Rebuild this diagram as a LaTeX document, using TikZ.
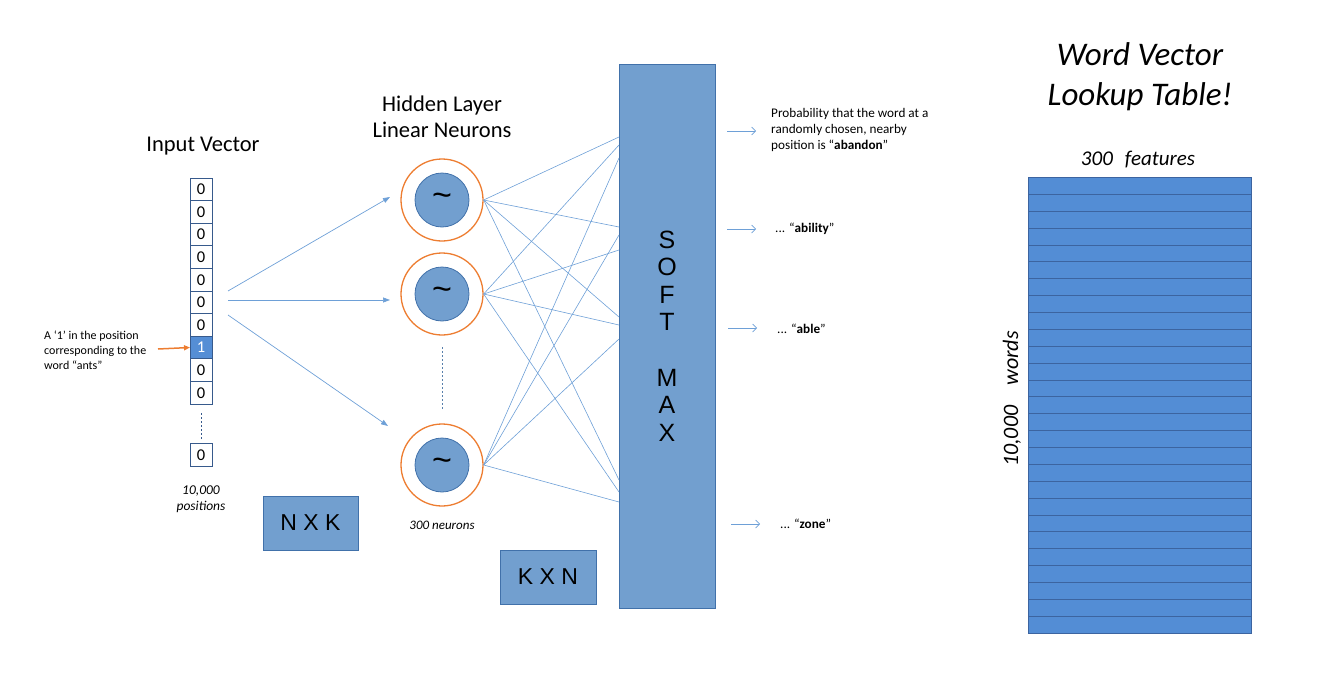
\documentclass[tikz,border=0pt]{standalone}
\usepackage{fontspec}
\setmainfont{Carlito}
\newfontfamily\arialfont{Liberation Sans}
\usetikzlibrary{arrows.meta}
\definecolor{boxblue}{RGB}{114,159,207}
\definecolor{boxedge}{RGB}{65,113,170}
\definecolor{celledge}{RGB}{55,90,140}
\definecolor{linkblue}{RGB}{110,160,215}
\definecolor{neurorange}{RGB}{237,125,49}
\definecolor{onecell}{RGB}{85,142,213}
\definecolor{tableblue}{RGB}{83,141,213}
\definecolor{tableedge}{RGB}{60,100,160}
\newcommand{\fs}[1]{\fontsize{#1}{#1}\selectfont}
\tikzset{
  cell/.style={draw=celledge,line width=1pt,minimum width=22pt,minimum height=22.6pt,inner sep=0pt,outer sep=0pt,font=\fs{16.5}},
  outer/.style={circle,draw=neurorange,line width=1.3pt,minimum size=82pt,inner sep=0pt},
  inner/.style={circle,draw=boxedge,fill=boxblue,line width=0.8pt,minimum size=54pt,inner sep=0pt,font=\arialfont\fs{34}},
  link/.style={draw=linkblue,line width=0.6pt},
  inarrow/.style={draw=linkblue,line width=0.7pt,-{Triangle[length=7pt,width=5pt]}},
  outarrow/.style={draw=linkblue,line width=0.7pt,-{Straight Barb[length=4pt,width=8pt]}},
  orangearrow/.style={draw=neurorange,line width=1.5pt,-{Triangle[length=6pt,width=5pt]}},
  bluebox/.style={draw=boxedge,fill=boxblue,line width=0.8pt,inner sep=0pt},
  letter/.style={font=\arialfont\fs{25},inner sep=0pt},
  lbl/.style={inner sep=0pt,align=left,anchor=west}
}
\begin{document}
\begin{tikzpicture}[x=1pt,y=-1pt]
\useasboundingbox (0,0) rectangle (1323,680);

% Input vector
\node[font=\fs{22.5}] (ivt) at (203,146) {Input Vector};
\foreach \i in {1,...,10}{
  \pgfmathsetmacro{\yy}{178+11.3+22.6*(\i-1)}
  \ifnum\i=8
    \node[cell,fill=onecell,text=white] (c\i) at (201,\yy) {1};
  \else
    \node[cell] (c\i) at (201,\yy) {0};
  \fi
}
\node[cell] (clast) at (201,455) {0};
\draw[celledge,dashed,line width=0.5pt,dash pattern=on 2pt off 2pt] (c10.south) ++(0,9) coordinate (dA) -- (201,440) coordinate (dB);
\node[font=\itshape\fs{13.5},align=center,inner sep=0pt] (ipos) at (201,499) {10,000\\[3pt]positions};

% label with orange arrow
\node[lbl,font=\fs{12}] (antlbl) at (44,350) {A `1' in the position\\[3pt]corresponding to the\\[3pt]word ``ants''};
\coordinate (oa1) at (158,349);
\draw[orangearrow] (oa1) -- (c8.west);

% arrows to neurons
\coordinate (ia1) at (228,291);
\coordinate (ia2) at (228,300);
\coordinate (ia3) at (228,315);
\coordinate (ib1) at (390,197);
\coordinate (ib2) at (390,300);
\coordinate (ib3) at (388,426);
\draw[inarrow] (ia1) -- (ib1);
\draw[inarrow] (ia2) -- (ib2);
\draw[inarrow] (ia3) -- (ib3);

% Hidden layer
\node[font=\fs{22.5},align=center,inner sep=0pt] (hlt) at (442,117) {Hidden Layer\\[4pt]Linear Neurons};
\node[outer] (n1o) at (442,200) {};
\node[inner] (n1) at (442,200) {\raisebox{-3pt}{\textasciitilde}};
\node[outer] (n2o) at (442,294) {};
\node[inner] (n2) at (442,294) {\raisebox{-3pt}{\textasciitilde}};
\node[outer] (n3o) at (442,465) {};
\node[inner] (n3) at (442,465) {\raisebox{-3pt}{\textasciitilde}};
\draw[linkblue!80!black,dashed,line width=0.5pt,dash pattern=on 2pt off 2pt] (442,347) coordinate (hdA) -- (442,410) coordinate (hdB);
\node[font=\itshape\fs{13},inner sep=0pt] (hneur) at (442,525) {300 neurons};

% Softmax
\node[bluebox,minimum width=96pt,minimum height=544pt] (sm) at (667,336) {};
\node[letter] (lS) at (667,240) {S};
\node[letter] (lO) at (667,267) {O};
\node[letter] (lF) at (667,295) {F};
\node[letter] (lT) at (667,322) {T};
\node[letter] (lM) at (667,378) {M};
\node[letter] (lA) at (667,405) {A};
\node[letter] (lX) at (667,433) {X};

% links neurons -> softmax
\foreach \k/\y in {a1/137,a2/227,a3/317,a4/480,b1/145,b2/250,b3/325,b4/492,c1/158,c2/235,c3/339,c4/502}{
  \coordinate (t\k) at (619,\y);
}
\foreach \k in {1,2,3,4}{
  \draw[link] (n1o.east) -- (ta\k);
  \draw[link] (n2o.east) -- (tb\k);
  \draw[link] (n3o.east) -- (tc\k);
}

% matrices
\node[bluebox,minimum width=95pt,minimum height=54pt,font=\arialfont\fs{23}] (nxk) at (310.5,523) {N X K};
\node[bluebox,minimum width=96pt,minimum height=54pt,font=\arialfont\fs{23}] (kxn) at (548,577) {K X N};

% outputs
\coordinate (o1a) at (727,131); \coordinate (o1b) at (756,131);
\coordinate (o2a) at (727,229); \coordinate (o2b) at (756,229);
\coordinate (o3a) at (728,328); \coordinate (o3b) at (757,328);
\coordinate (o4a) at (731,524); \coordinate (o4b) at (760,524);
\draw[outarrow] (o1a) -- (o1b);
\draw[outarrow] (o2a) -- (o2b);
\draw[outarrow] (o3a) -- (o3b);
\draw[outarrow] (o4a) -- (o4b);
\node[lbl,font=\fs{13.2}] (p1) at (771,130) {Probability that the word at a\\[3pt]randomly chosen, nearby\\[3pt]position is ``\textbf{abandon}''};
\node[lbl,font=\fs{13.2}] (p2) at (775,229) {... ``\textbf{ability}''};
\node[lbl,font=\fs{13.2}] (p3) at (777,329) {... ``\textbf{able}''};
\node[lbl,font=\fs{13.2}] (p4) at (780,524) {... ``\textbf{zone}''};

% Lookup table
\node[font=\itshape\fs{33},align=center,inner sep=0pt] (wvt) at (1140,77) {Word Vector\\[7pt]Lookup Table!};
\node[font=\itshape\fs{21},inner sep=0pt] (feat) at (1138,160) {300\hspace{12pt}features};
\foreach \r in {0,...,26}{
  \pgfmathsetmacro{\ya}{177.5+16.87*\r}
  \pgfmathsetmacro{\yb}{177.5+16.87*(\r+1)}
  \draw[fill=tableblue,draw=tableedge,line width=0.8pt] (1028,\ya) rectangle (1251,\yb);
}
\node[font=\itshape\fs{22},rotate=90,inner sep=0pt] (words) at (1012,399) {10,000\hspace{20pt}words};
\end{tikzpicture}
\end{document}
